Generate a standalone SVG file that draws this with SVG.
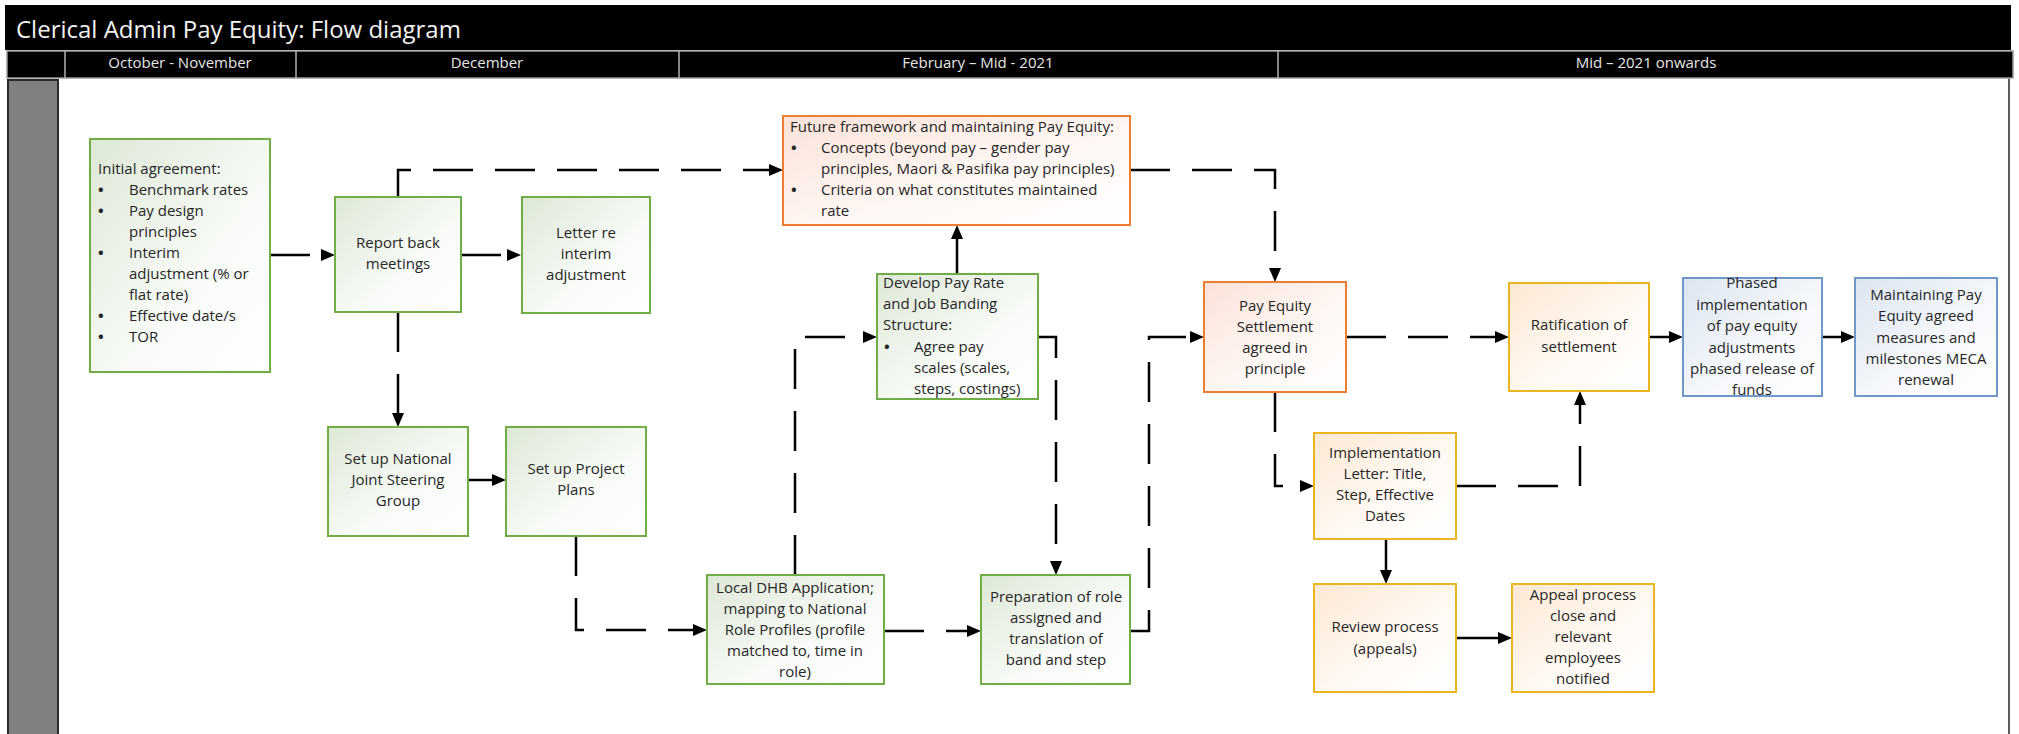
<svg xmlns="http://www.w3.org/2000/svg" width="2019" height="734" viewBox="0 0 2019 734">
<style>
.t{font-family:"Open Sans","Liberation Sans",sans-serif;font-size:15px;fill:#262626}
.c{text-anchor:middle}
.bu{font-weight:bold}
.h{font-family:"Open Sans","Liberation Sans",sans-serif;font-size:15px;fill:#e6e6e6;text-anchor:middle}
.g{stroke:#70AD47;stroke-width:2;fill:url(#gg)}
.o{stroke:#ED7D31;stroke-width:2;fill:url(#go)}
.y{stroke:#E9B521;stroke-width:2;fill:url(#gy)}
.b{stroke:#6F97C8;stroke-width:2;fill:url(#gb)}
.ln{fill:none;stroke:#000;stroke-width:2.5;marker-end:url(#arr)}
.d{stroke-dasharray:40 22}
</style>
<defs>
<linearGradient id="gg" x1="0" y1="0" x2="1" y2="1"><stop offset="0" stop-color="#dde8d6"/><stop offset="0.6" stop-color="#f8fbf7"/><stop offset="1" stop-color="#ffffff"/></linearGradient>
<linearGradient id="go" x1="0" y1="0" x2="1" y2="1"><stop offset="0" stop-color="#fbe2d9"/><stop offset="0.6" stop-color="#fef8f5"/><stop offset="1" stop-color="#ffffff"/></linearGradient>
<linearGradient id="gy" x1="0" y1="0" x2="1" y2="1"><stop offset="0" stop-color="#fde8d3"/><stop offset="0.6" stop-color="#fffaf5"/><stop offset="1" stop-color="#ffffff"/></linearGradient>
<linearGradient id="gb" x1="0" y1="0" x2="1" y2="1"><stop offset="0" stop-color="#dbe5f1"/><stop offset="0.6" stop-color="#f7f9fc"/><stop offset="1" stop-color="#ffffff"/></linearGradient>
<marker id="arr" markerWidth="14" markerHeight="12" refX="0" refY="6" orient="auto" markerUnits="userSpaceOnUse"><path d="M0,0 L14,6 L0,12 Z" fill="#000"/></marker>
</defs>
<rect width="2019" height="734" fill="#ffffff"/>
<g id="header">
<rect x="5" y="5" width="2006" height="45" fill="#000"/>
<text x="16" y="38" style="font-family:'Open Sans','Liberation Sans',sans-serif;font-size:24px;fill:#f2f2f2">Clerical Admin Pay Equity: Flow diagram</text>
<rect x="7" y="51" width="2006" height="27" fill="#000" stroke="#9a9a9a" stroke-width="1.5"/>
<g stroke="#b0b0b0" stroke-width="1.5"><line x1="65" y1="51" x2="65" y2="78"/><line x1="296" y1="51" x2="296" y2="78"/><line x1="679" y1="51" x2="679" y2="78"/><line x1="1278" y1="51" x2="1278" y2="78"/></g>
<text class="h" x="180" y="68">October - November</text>
<text class="h" x="487" y="68">December</text>
<text class="h" x="978" y="68">February – Mid - 2021</text>
<text class="h" x="1646" y="68">Mid – 2021 onwards</text>
</g>
<g id="frame">
<rect x="8" y="80" width="50" height="660" fill="#808080" stroke="#2a2a2a" stroke-width="2"/>
<line x1="2009" y1="79" x2="2009" y2="734" stroke="#222" stroke-width="1.5"/>
</g>
<g id="connectors">
<path class="ln d" d="M270,255 H321"/>
<path class="ln d" d="M461,255 H507"/>
<path class="ln d" d="M398,197 V170 H769"/>
<path class="ln d" d="M1130,170 H1275 V268"/>
<path class="ln d" d="M398,312 V413"/>
<path class="ln" d="M468,480 H492"/>
<path class="ln d" d="M576,536 V630 H693"/>
<path class="ln d" d="M795,575 V337 H863"/>
<path class="ln" d="M957,274 V239"/>
<path class="ln d" d="M1037,337 H1056 V561"/>
<path class="ln d" d="M884,631 H967"/>
<path class="ln d" d="M1130,631 H1149 V337 H1190"/>
<path class="ln d" d="M1346,337 H1495"/>
<path class="ln" d="M1649,337 H1669"/>
<path class="ln" d="M1822,337 H1841"/>
<path class="ln d" d="M1275,392 V486 H1300"/>
<path class="ln d" d="M1456,486 H1580 V405"/>
<path class="ln" d="M1386,539 V570"/>
<path class="ln" d="M1456,638 H1498"/>
</g>
<g id="n-initial">
<rect class="g" x="90" y="139" width="180" height="233"/>
<text class="t"><tspan x="98" y="174">Initial agreement:</tspan><tspan class="bu" x="98" y="195">•</tspan><tspan x="129" y="195">Benchmark rates</tspan><tspan class="bu" x="98" y="216">•</tspan><tspan x="129" y="216">Pay design</tspan><tspan x="129" y="237">principles</tspan><tspan class="bu" x="98" y="258">•</tspan><tspan x="129" y="258">Interim</tspan><tspan x="129" y="279">adjustment (% or</tspan><tspan x="129" y="300">flat rate)</tspan><tspan class="bu" x="98" y="321">•</tspan><tspan x="129" y="321">Effective date/s</tspan><tspan class="bu" x="98" y="342">•</tspan><tspan x="129" y="342">TOR</tspan></text>
</g>
<g id="n-report">
<rect class="g" x="335" y="197" width="126" height="115"/>
<text class="t c"><tspan x="398" y="248">Report back</tspan><tspan x="398" y="269">meetings</tspan></text>
</g>
<g id="n-letter">
<rect class="g" x="522" y="197" width="128" height="116"/>
<text class="t c"><tspan x="586" y="238">Letter re</tspan><tspan x="586" y="259">interim</tspan><tspan x="586" y="280">adjustment</tspan></text>
</g>
<g id="n-future">
<rect class="o" x="783" y="116" width="347" height="109"/>
<text class="t"><tspan x="790" y="132">Future framework and maintaining Pay Equity:</tspan><tspan class="bu" x="791" y="153">•</tspan><tspan x="821" y="153">Concepts (beyond pay – gender pay</tspan><tspan x="821" y="174">principles, Maori &amp; Pasifika pay principles)</tspan><tspan class="bu" x="791" y="195">•</tspan><tspan x="821" y="195">Criteria on what constitutes maintained</tspan><tspan x="821" y="216">rate</tspan></text>
</g>
<g id="n-develop">
<rect class="g" x="877" y="274" width="161" height="125"/>
<text class="t"><tspan x="883" y="288">Develop Pay Rate</tspan><tspan x="883" y="309">and Job Banding</tspan><tspan x="883" y="330">Structure:</tspan><tspan class="bu" x="884" y="352">•</tspan><tspan x="914" y="352">Agree pay</tspan><tspan x="914" y="373">scales (scales,</tspan><tspan x="914" y="394">steps, costings)</tspan></text>
</g>
<g id="n-national">
<rect class="g" x="328" y="427" width="140" height="109"/>
<text class="t c"><tspan x="398" y="464">Set up National</tspan><tspan x="398" y="485">Joint Steering</tspan><tspan x="398" y="506">Group</tspan></text>
</g>
<g id="n-project">
<rect class="g" x="506" y="427" width="140" height="109"/>
<text class="t c"><tspan x="576" y="474">Set up Project</tspan><tspan x="576" y="495">Plans</tspan></text>
</g>
<g id="n-local">
<rect class="g" x="707" y="575" width="177" height="109"/>
<text class="t c"><tspan x="795" y="593">Local DHB Application;</tspan><tspan x="795" y="614">mapping to National</tspan><tspan x="795" y="635">Role Profiles (profile</tspan><tspan x="795" y="656">matched to, time in</tspan><tspan x="795" y="677">role)</tspan></text>
</g>
<g id="n-prep">
<rect class="g" x="981" y="575" width="149" height="109"/>
<text class="t c"><tspan x="1056" y="602">Preparation of role</tspan><tspan x="1056" y="623">assigned and</tspan><tspan x="1056" y="644">translation of</tspan><tspan x="1056" y="665">band and step</tspan></text>
</g>
<g id="n-settlement">
<rect class="o" x="1204" y="282" width="142" height="110"/>
<text class="t c"><tspan x="1275" y="311">Pay Equity</tspan><tspan x="1275" y="332">Settlement</tspan><tspan x="1275" y="353">agreed in</tspan><tspan x="1275" y="374">principle</tspan></text>
</g>
<g id="n-ratification">
<rect class="y" x="1509" y="283" width="140" height="108"/>
<text class="t c"><tspan x="1579" y="330">Ratification of</tspan><tspan x="1579" y="352">settlement</tspan></text>
</g>
<g id="n-phased">
<rect class="b" x="1683" y="278" width="139" height="118"/>
<text class="t c"><tspan x="1752" y="288">Phased</tspan><tspan x="1752" y="310">implementation</tspan><tspan x="1752" y="331">of pay equity</tspan><tspan x="1752" y="353">adjustments</tspan><tspan x="1752" y="374">phased release of</tspan><tspan x="1752" y="395">funds</tspan></text>
</g>
<g id="n-maintaining">
<rect class="b" x="1855" y="278" width="142" height="118"/>
<text class="t c"><tspan x="1926" y="300">Maintaining Pay</tspan><tspan x="1926" y="321">Equity agreed</tspan><tspan x="1926" y="343">measures and</tspan><tspan x="1926" y="364">milestones MECA</tspan><tspan x="1926" y="385">renewal</tspan></text>
</g>
<g id="n-implementation">
<rect class="y" x="1314" y="433" width="142" height="106"/>
<text class="t c"><tspan x="1385" y="458">Implementation</tspan><tspan x="1385" y="479">Letter: Title,</tspan><tspan x="1385" y="500">Step, Effective</tspan><tspan x="1385" y="521">Dates</tspan></text>
</g>
<g id="n-review">
<rect class="y" x="1314" y="584" width="142" height="108"/>
<text class="t c"><tspan x="1385" y="632">Review process</tspan><tspan x="1385" y="654">(appeals)</tspan></text>
</g>
<g id="n-appeal">
<rect class="y" x="1512" y="584" width="142" height="108"/>
<text class="t c"><tspan x="1583" y="600">Appeal process</tspan><tspan x="1583" y="621">close and</tspan><tspan x="1583" y="642">relevant</tspan><tspan x="1583" y="663">employees</tspan><tspan x="1583" y="684">notified</tspan></text>
</g>
</svg>
